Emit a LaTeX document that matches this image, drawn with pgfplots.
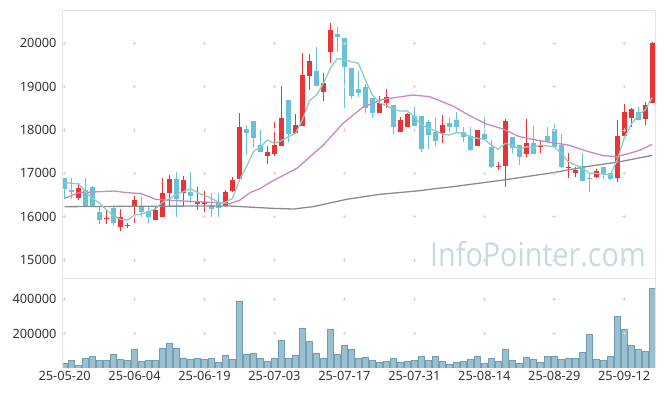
\documentclass[border=0pt]{standalone}
\usepackage{pgfplots}
\pgfplotsset{compat=1.18}
\usepackage{pgfplotstable}
\usepackage{fontspec}
\setmainfont{Noto Sans}
\newfontfamily\wmfont{Open Sans}

\definecolor{cred}{RGB}{234,51,55}
\definecolor{cblue}{RGB}{105,193,216}
\definecolor{cma5}{RGB}{138,206,194}
\definecolor{cma20}{RGB}{200,136,200}
\definecolor{cma60}{RGB}{140,140,140}
\definecolor{cvol}{RGB}{154,192,208}
\definecolor{cvoledge}{RGB}{112,158,180}
\definecolor{cframe}{RGB}{228,228,228}
\definecolor{cgrid}{RGB}{215,215,215}
\definecolor{ctext}{RGB}{51,51,51}
\definecolor{cwm}{RGB}{198,217,228}

\pgfplotstableread{
i O H L C
2 16438 16785 16385 16654
6 15938 16154 15823 15969
8 15769 16169 15677 16000
9 15785 15846 15730 15808
10 16254 16477 15846 16385
13 15923 16230 15923 16154
14 16000 16885 16000 16554
15 16538 16962 16230 16869
17 16538 16946 16246 16846
19 16285 16677 16154 16338
20 16285 16600 16100 16338
23 16254 16615 16230 16577
24 16600 16923 16577 16846
25 16862 18385 16830 18077
29 17408 17631 17215 17485
30 17446 18177 17408 17654
31 17638 19023 17638 18285
33 17938 18362 17908 18115
34 18100 19785 18100 19269
35 19254 19746 18923 19592
37 18885 19308 18677 19077
38 19808 20462 19538 20308
45 18400 18785 18400 18615
46 18615 18938 18500 18754
48 17962 18292 17962 18231
49 18062 18400 18062 18369
54 17923 18338 17692 18115
59 17638 18000 17638 18000
62 17138 17269 17077 17177
63 17177 18246 16692 18208
66 17446 18246 17385 17692
68 17600 17769 17477 17654
72 17115 17477 16885 17154
73 17015 17138 16923 17077
76 16923 17092 16900 17054
79 16885 18231 16792 17862
80 17869 18592 17869 18423
81 18285 18500 18077 18477
83 18254 18654 18115 18577
84 18631 20038 18631 20015
}\redcandles

\pgfplotstableread{
i O H L C
0 16885 16900 16400 16638
1 16615 16885 16400 16577
3 16615 16885 16230 16230
4 16692 16700 16230 16230
5 16108 16230 15823 15923
7 16208 16230 15808 15846
11 16230 16462 16000 16115
12 16123 16230 15846 16000
16 16869 17023 15985 16400
18 16577 17023 16308 16477
21 16269 16538 16000 16169
22 16323 16538 16000 16192
26 18023 18115 17423 17923
27 18208 18208 17615 17808
28 17654 18000 17500 17500
32 18692 18692 17715 17908
36 19362 19908 19015 19023
39 20215 20369 19808 20154
40 20115 20115 18500 19462
41 19423 19423 18708 18792
42 18946 19369 18754 18862
43 19000 19062 18400 18500
44 18731 18731 18269 18400
47 18577 18577 17908 18077
50 18323 18538 18092 18092
51 18323 18323 17500 17554
52 18192 18231 17554 17885
53 17962 18269 17631 17754
55 18154 18269 17962 18062
56 18231 18423 17962 18062
57 17962 18077 17731 17846
58 17862 18077 17523 17538
60 17908 18269 17800 17800
61 17600 17769 17115 17154
64 17831 17831 17462 17577
65 17654 17654 17192 17369
67 17692 18092 17446 17446
69 17869 18077 17708 17746
70 18015 18138 17600 17600
71 17654 17908 17115 17138
74 17177 17477 16831 16831
75 16900 17000 16577 16877
77 17154 17154 16862 16977
78 17015 17015 16846 16862
82 18423 18538 18231 18231
}\bluecandles

\pgfplotstableread{
i v
0 25000
1 44000
2 13000
3 54000
4 65000
5 44000
6 44000
7 77000
8 48000
9 42000
10 106000
11 38000
12 44000
13 44000
14 112000
15 146000
16 112000
17 54000
18 48000
19 54000
20 48000
21 54000
22 33000
23 71000
24 48000
25 388000
26 77000
27 88000
28 54000
29 37000
30 54000
31 158000
32 54000
33 71000
34 233000
35 152000
36 88000
37 54000
38 227000
39 77000
40 131000
41 108000
42 56000
43 62000
44 44000
45 33000
46 38000
47 56000
48 33000
49 38000
50 44000
51 67000
52 44000
53 67000
54 38000
55 21000
56 33000
57 38000
58 50000
59 67000
60 27000
61 56000
62 38000
63 108000
64 44000
65 27000
66 62000
67 50000
68 33000
69 67000
70 67000
71 50000
72 56000
73 56000
74 90000
75 194000
76 50000
77 44000
78 67000
79 298000
80 223000
81 131000
82 108000
83 96000
84 465000
}\vol

\pgfplotstableread{
i v
0 16785
1 16770
2 16754
3 16577
4 16423
5 16308
6 16154
7 16023
8 15938
9 15923
10 16038
11 16062
12 16108
13 16185
14 16331
15 16415
16 16515
17 16577
18 16646
19 16554
20 16492
21 16423
22 16331
23 16331
24 16423
25 16846
26 17154
27 17500
28 17615
29 17769
30 17692
31 17754
32 17846
33 17923
34 18231
35 18677
36 18808
37 19077
38 19423
39 19654
40 19615
41 19577
42 19538
43 19154
44 18808
45 18631
46 18562
47 18477
48 18438
49 18438
50 18308
51 18115
52 18038
53 17985
54 17908
55 17885
56 17938
57 17923
58 17846
59 17808
60 17785
61 17654
62 17554
63 17692
64 17654
65 17554
66 17615
67 17592
68 17654
69 17631
70 17615
71 17462
72 17269
73 17192
74 17131
75 17000
76 17000
77 16985
78 16962
79 17308
80 17808
81 18131
82 18346
83 18462
84 18754
}\maA

\pgfplotstableread{
i v
0 16423
2 16554
7 16592
9 16554
11 16530
13 16400
16 16370
19 16346
22 16323
23.6 16300
25 16377
26.5 16554
28 16654
29.8 16831
33.2 17115
37 17654
39.8 18154
42.7 18531
45.5 18708
49.8 18808
52.2 18769
55.5 18554
58 18323
60.3 18138
62.7 18023
65 17846
67.4 17769
69.8 17708
72 17654
74.6 17515
77 17408
78.9 17385
80.4 17446
82.3 17538
84 17669
}\maB

\pgfplotstableread{
i v
0 16231
10 16240
20 16246
23.6 16246
29.8 16192
32.7 16177
35.5 16231
40.3 16400
45 16515
50.8 16600
52.2 16631
55.5 16692
62.7 16846
69.8 17015
74.6 17154
79.4 17269
84 17415
}\maC

\begin{document}
\begin{tikzpicture}
\path[use as bounding box] (0bp,0bp) rectangle (665bp,396bp);
\pgfplotsset{
  every axis/.append style={
    scale only axis, width=593bp,
    xmin=-0.37, xmax=84.4,
    axis line style={draw=none},
    tick style={draw=none},
    major tick length=0pt,
    scaled y ticks=false, scaled x ticks=false,
    ticklabel style={font=\fontsize{12.8bp}{14bp}\selectfont, text=ctext},
    /pgf/number format/assume math mode=true,
    yticklabel style={xshift=-2bp},
  }
}
\begin{axis}[name=top, at={(62bp,118bp)}, anchor=south west, height=268bp,
  ymin=14585, ymax=20770, xtick=\empty,
  ytick={15000,16000,17000,18000,19000,20000},
  yticklabels={15000,16000,17000,18000,19000,20000}]
\addplot[only marks, mark=+, mark size=1.8bp, cgrid, forget plot] coordinates {
(0,15000)(0,16000)(0,17000)(0,18000)(0,19000)(0,20000)
(10,15000)(10,16000)(10,17000)(10,18000)(10,19000)(10,20000)
(20,15000)(20,16000)(20,17000)(20,18000)(20,19000)(20,20000)
(30,15000)(30,16000)(30,17000)(30,18000)(30,19000)(30,20000)
(40,15000)(40,16000)(40,17000)(40,18000)(40,19000)(40,20000)
(50,15000)(50,16000)(50,17000)(50,18000)(50,19000)(50,20000)
(60,15000)(60,16000)(60,17000)(60,18000)(60,19000)(60,20000)
(70,15000)(70,16000)(70,17000)(70,18000)(70,19000)(70,20000)
(80,15000)(80,16000)(80,17000)(80,18000)(80,19000)(80,20000)};
% wicks
\addplot[draw=none, forget plot, error bars/.cd, y dir=plus, y explicit, error mark=none,
  error bar style={draw=cred, line width=1.1bp}]
  table[x=i, y=L, y error plus expr=\thisrow{H}-\thisrow{L}] {\redcandles};
\addplot[draw=none, forget plot, error bars/.cd, y dir=plus, y explicit, error mark=none,
  error bar style={draw=cblue, line width=1.1bp}]
  table[x=i, y=L, y error plus expr=\thisrow{H}-\thisrow{L}] {\bluecandles};
% bodies
\addplot[draw=none, forget plot, error bars/.cd, y dir=plus, y explicit, error mark=none,
  error bar style={draw=cred, line width=4.8bp}]
  table[x=i, y=O, y error plus expr=\thisrow{C}-\thisrow{O}] {\redcandles};
\addplot[draw=none, forget plot, error bars/.cd, y dir=plus, y explicit, error mark=none,
  error bar style={draw=cblue, line width=4.8bp}]
  table[x=i, y=C, y error plus expr=\thisrow{O}-\thisrow{C}] {\bluecandles};
% moving averages
\addplot[cma60, line width=1.3bp, mark=none] table[x=i, y=v] {\maC};
\addplot[cma20, line width=1.3bp, mark=none] table[x=i, y=v] {\maB};
\addplot[cma5, line width=1.3bp, mark=none] table[x=i, y=v] {\maA};
\end{axis}
\draw[cframe, line width=0.8bp] (top.south west) rectangle (top.north east);

\begin{axis}[name=vol, at={(62bp,28bp)}, anchor=south west, height=90bp,
  ymin=0, ymax=522000,
  ytick={200000,400000}, yticklabels={200000,400000},
  xtick={0,10,20,30,40,50,60,70,80},
  xticklabels={25-05-20,25-06-04,25-06-19,25-07-03,25-07-17,25-07-31,25-08-14,25-08-29,25-09-12}]
\addplot[only marks, mark=+, mark size=1.8bp, cgrid, forget plot] coordinates {
(0,200000)(0,400000)(10,200000)(10,400000)(20,200000)(20,400000)
(30,200000)(30,400000)(40,200000)(40,400000)(50,200000)(50,400000)
(60,200000)(60,400000)(70,200000)(70,400000)(80,200000)(80,400000)};
\addplot[ybar, bar width=6.4bp, fill=cvol, draw=cvoledge, line width=0.6bp] table[x=i, y=v] {\vol};
\end{axis}
\draw[cframe, line width=0.8bp] (vol.south west) -- (vol.north west) -- (vol.north east) -- (vol.south east);

\node[anchor=base west, inner sep=0, text=cwm, font=\wmfont\fontsize{33bp}{36bp}\selectfont, xscale=0.87] at (430bp,129.5bp) {InfoPointer.com};
\end{tikzpicture}
\end{document}
